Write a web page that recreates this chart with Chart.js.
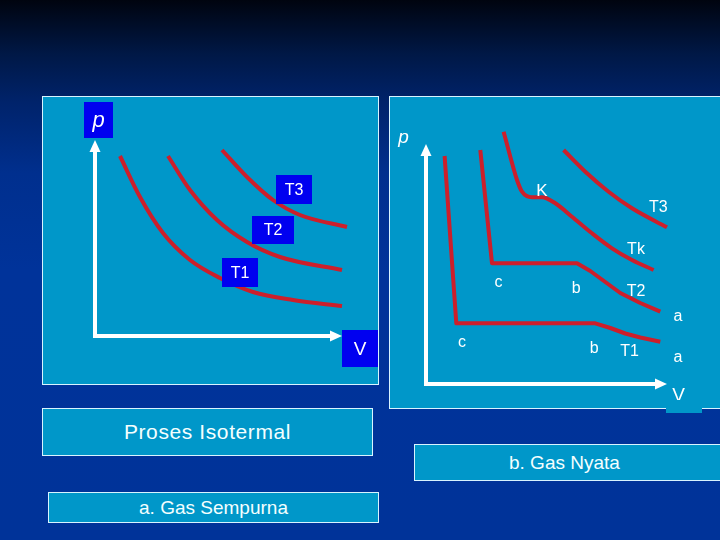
<!DOCTYPE html>
<html>
<head>
<meta charset="utf-8">
<script src="https://cdn.jsdelivr.net/npm/chart.js@4"></script>
<style>
  body { margin: 0; }
  #slide {
    position: relative; width: 720px; height: 540px; overflow: hidden;
    background: linear-gradient(180deg, #00040f 0%, #001846 10%, #00236b 19%, #002f8e 32%, #00339a 50%, #003399 100%);
    font-family: "Liberation Sans", Arial, sans-serif; color: #fff;
  }
  .panel { position: absolute; background: #0097c9; border: 1px solid #d8f4ff; box-sizing: border-box; }
  .holder { position: absolute; }
  .cap { position: absolute; background: #0097c9; border: 1px solid #d8f4ff; box-sizing: border-box;
         display: flex; align-items: center; justify-content: center; color: #f4ffff; }
</style>
</head>
<body>
<div id="slide">
  <div class="panel" style="left:42px;top:96px;width:337px;height:289px"></div>
  <div class="panel" style="left:389px;top:96px;width:340px;height:313px"></div>
  <div class="holder" style="left:42px;top:96px"><canvas id="idealChart" width="337" height="288"></canvas></div>
  <div class="holder" style="left:389px;top:96px"><canvas id="realChart" width="331" height="312"></canvas></div>
  <div style="position:absolute;left:666px;top:400px;width:36px;height:13px;background:#0097c9"></div>
  <div class="cap" style="left:42px;top:408px;width:331px;height:48px;font-size:21px;letter-spacing:0.6px">Proses Isotermal</div>
  <div class="cap" style="left:414px;top:444px;width:320px;height:37px;font-size:19px;justify-content:flex-start;padding-left:94px">b. Gas Nyata</div>
  <div class="cap" style="left:48px;top:492px;width:331px;height:31px;font-size:19px">a. Gas Sempurna</div>
</div>
<script>
// a. gas sempurna (ideal gas isotherms), V vs p
const idealT1V = [25, 45, 68, 95, 125, 158, 198, 247];
const idealT1P = [180, 139, 103, 76, 58, 44, 36, 30];
const idealT2V = [73, 95, 122, 152, 185, 247];
const idealT2P = [180, 146, 116, 94, 79, 66];
const idealT3V = [127, 152, 178, 205, 252];
const idealT3P = [186, 159, 136, 121, 109];

const idealLabels = ['p', 'T3', 'T2', 'T1', 'V'];
const idealLabelV = [3.5, 199, 178, 145, 265];
const idealLabelP = [216, 146.5, 106, 63.5, -12.5];

// b. gas nyata (real gas isotherms)
const realT1V = [18.6, 30.3, 169.3, 184.3, 199.3, 214.3, 234.3];
const realT1P = [228, 60.7, 60.7, 56, 50.5, 46.5, 42.3];
const realT2V = [54.3, 66, 151, 164.3, 179.3, 194.3, 214.3, 234.3];
const realT2P = [234, 120.7, 120.7, 113, 102, 91, 81, 72.3];
const realTkV = [77.6, 84.3, 91, 96, 106, 116, 129.3, 146, 166, 186, 206, 227.6];
const realTkP = [252.3, 227.3, 204, 192.3, 186.7, 186.7, 180.7, 167.3, 150.7, 135.7, 124, 114];
const realT3V = [137.6, 159.3, 182.6, 206, 241];
const realT3P = [234, 212.3, 192.3, 175.7, 156.7];

const realLabels = ['p', 'K', 'T3', 'Tk', 'c', 'b', 'T2', 'a', 'c', 'b', 'T1', 'a', 'V'];
const realLabelV = [-22.4, 116, 232.3, 210, 72.6, 150.3, 210, 252, 36, 168.3, 203.6, 252, 252.6];
const realLabelP = [247.3, 194, 177, 135, 102.3, 96.7, 93.3, 68, 42.3, 36.7, 33.3, 27.3, -11];

const RED = '#cc1f2b';

const toPoints = (xs, ys) => xs.map((v, i) => ({x: v, y: ys[i]}));

const curve = (xs, ys, smooth) => ({
    data: toPoints(xs, ys),
    showLine: true,
    borderColor: RED,
    borderWidth: 4,
    pointRadius: 0,
    tension: smooth ? 0.4 : 0,
    cubicInterpolationMode: smooth ? 'monotone' : 'default',
    clip: false,
    borderCapStyle: 'butt',
    borderJoinStyle: 'round'
});

// white arrow heads on axis ends
const arrowPlugin = {
    id: 'arrows',
    afterDraw(chart) {
        const {ctx, chartArea: a} = chart;
        ctx.save();
        ctx.fillStyle = '#fff';
        ctx.beginPath();
        ctx.moveTo(a.left, a.top - 11);
        ctx.lineTo(a.left - 5.5, a.top + 1);
        ctx.lineTo(a.left + 5.5, a.top + 1);
        ctx.fill();
        ctx.beginPath();
        ctx.moveTo(a.right + 11, a.bottom);
        ctx.lineTo(a.right - 1, a.bottom - 5.5);
        ctx.lineTo(a.right - 1, a.bottom + 5.5);
        ctx.fill();
        ctx.restore();
    }
};

const labelPlugin = {
    id: 'marks',
    afterDraw(chart, args, opts) {
        const {ctx} = chart;
        const sx = chart.scales.x, sy = chart.scales.y;
        ctx.save();
        ctx.textAlign = 'center';
        ctx.textBaseline = 'middle';
        opts.texts.forEach((t, i) => {
            const px = sx.getPixelForValue(opts.vs[i]);
            const py = sy.getPixelForValue(opts.ps[i]);
            if (opts.boxes) {
                const [w, h] = opts.boxes[i];
                ctx.fillStyle = '#0000f0';
                ctx.fillRect(px - w / 2, py - h / 2, w, h);
            }
            const italic = t === 'p';
            ctx.font = (italic ? 'italic ' : '') + (opts.sizes ? opts.sizes[i] : 16) + 'px "Liberation Sans", Arial, sans-serif';
            ctx.fillStyle = '#fff';
            ctx.fillText(t, px, py + 1);
        });
        ctx.restore();
    }
};

const axisOpts = (max) => ({
    type: 'linear',
    min: 0,
    max: max,
    grid: {display: false, drawTicks: false},
    ticks: {display: false},
    border: {display: true, color: '#fff', width: 4}
});

const makeChart = (id, datasets, xMax, yMax, padding, marks) => {
    new Chart(document.getElementById(id), {
        type: 'scatter',
        data: {datasets: datasets},
        options: {
            responsive: false,
            animation: false,
            layout: {padding: padding},
            scales: {x: axisOpts(xMax), y: axisOpts(yMax)},
            plugins: {
                legend: {display: false},
                tooltip: {enabled: false},
                marks: marks
            }
        },
        plugins: [arrowPlugin, labelPlugin]
    });
};

makeChart('idealChart', [
    curve(idealT1V, idealT1P, true),
    curve(idealT2V, idealT2P, true),
    curve(idealT3V, idealT3P, true)
], 236, 185, {left: 53, right: 48, top: 55, bottom: 48}, {
    texts: idealLabels, vs: idealLabelV, ps: idealLabelP,
    boxes: [[29, 36], [36, 29], [42, 28], [36, 29], [36, 37]],
    sizes: [22, 16, 16, 16, 19]
});

makeChart('realChart', [
    curve(realT1V, realT1P, false),
    curve(realT2V, realT2P, false),
    curve(realTkV, realTkP, true),
    curve(realT3V, realT3P, true)
], 230, 229, {left: 37, right: 64, top: 59, bottom: 24}, {
    texts: realLabels, vs: realLabelV, ps: realLabelP,
    sizes: [19, 17, 16, 16, 16, 16, 16, 16, 16, 16, 16, 16, 19]
});
</script>
</body>
</html>
